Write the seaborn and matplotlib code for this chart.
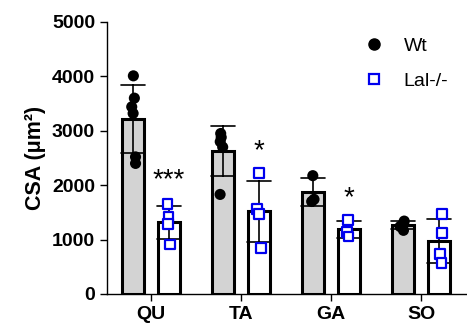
import numpy as np
import pandas as pd
import matplotlib.pyplot as plt
import seaborn as sns
from matplotlib.lines import Line2D

muscles = ["QU", "TA", "GA", "SO"]
genotypes = ["Wt", "Lal-/-"]

wt_qu = [4010, 3600, 3440, 3320, 2520, 2400]
wt_ta = [2950, 2880, 2800, 2700, 1830]
wt_ga = [2175, 1740, 1700]
wt_so = [1340, 1300, 1240, 1170]

ko_qu = [1650, 1410, 1290, 910]
ko_ta = [2220, 1560, 1465, 850]
ko_ga = [1360, 1145, 1055]
ko_so = [1465, 1125, 735, 575]

stars = ["***", "*", "*", ""]
star_y = [2100, 2630, 1760, 0]

rows = []
for m, vals in zip(muscles, [wt_qu, wt_ta, wt_ga, wt_so]):
    rows += [(m, "Wt", v) for v in vals]
for m, vals in zip(muscles, [ko_qu, ko_ta, ko_ga, ko_so]):
    rows += [(m, "Lal-/-", v) for v in vals]
df = pd.DataFrame(rows, columns=["muscle", "geno", "csa"])

sns.set_style("ticks")
plt.rcParams["font.family"] = ["Liberation Sans", "DejaVu Sans"]
plt.rcParams["text.color"] = "black"
plt.rcParams["axes.labelcolor"] = "black"
plt.rcParams["xtick.color"] = "black"
plt.rcParams["ytick.color"] = "black"

np.random.seed(3)

fig = plt.figure(figsize=(4.67, 3.32), dpi=100)
ax = fig.add_axes([0.229, 0.1145, 0.771, 0.8193])

sns.barplot(data=df, x="muscle", y="csa", hue="geno", order=muscles, hue_order=genotypes,
            palette={"Wt": "#d3d3d3", "Lal-/-": "white"}, edgecolor="black", linewidth=2.2,
            width=0.8, gap=0.39, errorbar="sd", capsize=0.55,
            err_kws={"color": "black", "linewidth": 1.2}, legend=False, ax=ax)

sns.stripplot(data=df[df.geno == "Wt"], x="muscle", y="csa", hue="geno", order=muscles,
              hue_order=genotypes, dodge=True, jitter=0.07, marker="o", size=8,
              palette={"Wt": "black", "Lal-/-": "black"}, linewidth=0, legend=False, ax=ax)
sns.stripplot(data=df[df.geno == "Lal-/-"], x="muscle", y="csa", hue="geno", order=muscles,
              hue_order=genotypes, dodge=True, jitter=0.07, marker="s", size=7,
              palette={"Wt": "white", "Lal-/-": "white"}, edgecolor="#0000ee", linewidth=1.6,
              legend=False, ax=ax)

# significance marks above the Lal-/- bars
for i, s in enumerate(stars):
    if s:
        ax.text(i + 0.2, star_y[i], s, ha="center", va="center", fontsize=20)

ax.set_xlim(-0.49, 3.51)
ax.set_ylim(0, 5000)
ax.set_yticks(range(0, 5001, 1000))
ax.set_xlabel("")
ax.set_ylabel("CSA (μm²)", fontsize=15.5, fontweight="bold", labelpad=4)
ax.tick_params(axis="both", labelsize=14, width=1, length=5, color="black")
for lab in ax.get_xticklabels() + ax.get_yticklabels():
    lab.set_fontweight("bold")
sns.despine(ax=ax)
for sp in ["left", "bottom"]:
    ax.spines[sp].set_linewidth(1)
    ax.spines[sp].set_color("black")

handles = [
    Line2D([], [], marker="o", linestyle="", color="black", markersize=8),
    Line2D([], [], marker="s", linestyle="", markerfacecolor="white",
           markeredgecolor="#0000ee", markeredgewidth=1.6, markersize=7),
]
fig.legend(handles, genotypes, loc="upper left", bbox_to_anchor=(0.739, 0.94), frameon=False,
           fontsize=14, labelspacing=0.9, handletextpad=0.9, handlelength=1.2)

fig.savefig("out.png", dpi=100)
